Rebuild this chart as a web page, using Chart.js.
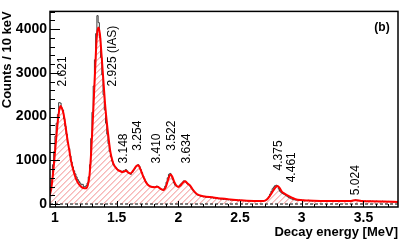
<!DOCTYPE html>
<html>
<head>
<meta charset="utf-8">
<script src="https://cdn.jsdelivr.net/npm/chart.js@4.4.1/dist/chart.umd.min.js"></script>
<style>
  html, body { margin: 0; padding: 0; background: #fff; }
  #wrap { width: 415px; height: 246px; }
</style>
</head>
<body>
<div id="wrap"><canvas id="spectrum" width="415" height="246"></canvas></div>
<script>
// histogram: 10 keV bins, first bin starts at 0.96 MeV
var binStart = 0.96;
var binWidth = 0.01;
var histCounts = [
  300, 560, 900, 1200, 1550, 1850, 2050, 2320, 2310, 2200,
  2150, 1950, 1780, 1600, 1400, 1270, 1100, 960, 850, 760,
  690, 620, 560, 520, 480, 440, 450, 400, 390, 420,
  480, 620, 900, 1500, 2100, 2700, 3300, 3900, 4310, 4150,
  3800, 3350, 2950, 2500, 2150, 1850, 1600, 1380, 1200, 1080,
  980, 900, 860, 840, 800, 780, 770, 750, 730, 760,
  740, 790, 760, 720, 700, 680, 720, 760, 800, 850,
  880, 900, 860, 790, 720, 640, 580, 520, 480, 440,
  420, 400, 390, 400, 380, 390, 410, 400, 370, 350,
  330, 320, 350, 410, 500, 600, 680, 700, 640, 560,
  480, 430, 410, 400, 410, 440, 470, 500, 530, 520,
  490, 460, 440, 410, 370, 330, 290, 260, 230, 210,
  195, 190, 175, 185, 165, 175, 155, 165, 150, 160,
  140, 155, 135, 145, 125, 140, 120, 130, 110, 125,
  105, 115, 100, 110, 95, 105, 90, 100, 85, 95,
  80, 90, 75, 90, 70, 85, 75, 80, 70, 80,
  65, 75, 70, 80, 65, 70, 75, 65, 70, 75,
  60, 70, 65, 75, 80, 100, 130, 170, 230, 290,
  350, 390, 420, 430, 400, 340, 290, 260, 240, 225,
  210, 190, 170, 150, 135, 120, 110, 100, 95, 90,
  95, 85, 80, 90, 75, 85, 70, 80, 75, 85,
  70, 80, 65, 75, 80, 70, 75, 65, 80, 70,
  75, 65, 70, 80, 65, 75, 70, 60, 75, 70,
  65, 75, 60, 70, 75, 65, 70, 60, 75, 65,
  70, 60, 75, 70, 65, 75, 85, 95, 90, 85,
  75, 65, 70, 60, 65, 70, 55, 65, 60, 70,
  55, 65, 60, 55, 65, 60, 50, 60, 55, 65,
  50, 60, 55, 50, 60, 55, 50, 55, 45, 55,
  50, 45
];

// fit curve
var fitEnergy = [
  0.960, 0.975, 0.990, 1.005, 1.020, 1.035, 1.046, 1.058, 1.070, 1.085,
  1.100, 1.115, 1.130, 1.150, 1.170, 1.190, 1.210, 1.230, 1.250, 1.265,
  1.280, 1.295, 1.310, 1.325, 1.338, 1.351, 1.364, 1.378, 1.392, 1.406,
  1.420, 1.435, 1.450, 1.470, 1.490, 1.510, 1.530, 1.550, 1.573, 1.595,
  1.610, 1.625, 1.640, 1.660, 1.676, 1.695, 1.717, 1.737, 1.757, 1.780,
  1.800, 1.830, 1.855, 1.880, 1.900, 1.920, 1.935, 1.950, 1.965, 1.985,
  2.000, 2.020, 2.040, 2.057, 2.075, 2.096, 2.120, 2.150, 2.200, 2.285,
  2.350, 2.420, 2.490, 2.556, 2.620, 2.690, 2.720, 2.745, 2.772, 2.790,
  2.804, 2.820, 2.840, 2.860, 2.881, 2.900, 2.921, 2.950, 2.989, 3.050,
  3.151, 3.250, 3.350, 3.400, 3.435, 3.460, 3.490, 3.550, 3.650, 3.780
];
var fitCounts = [
  210, 450, 850, 1330, 1800, 2150, 2240, 2180, 2060, 1800,
  1500, 1250, 1000, 760, 580, 470, 400, 365, 360, 420,
  650, 1250, 2100, 3020, 3780, 4040, 3900, 3400, 2850, 2300,
  1880, 1500, 1180, 950, 840, 780, 750, 730, 760, 720,
  700, 730, 790, 870, 885, 780, 620, 500, 430, 395,
  385, 395, 350, 320, 400, 580, 675, 630, 520, 420,
  390, 430, 500, 520, 470, 420, 320, 230, 180, 150,
  125, 105, 88, 75, 70, 68, 110, 200, 320, 390,
  415, 370, 280, 240, 205, 175, 145, 110, 90, 80,
  72, 70, 68, 70, 88, 82, 68, 62, 55, 48
];

var xTicksMajor = [1, 1.5, 2, 2.5, 3, 3.5];
var yTicksMajor = [0, 1000, 2000, 3000, 4000];

// peak labels (excitation energy in MeV), anchored at the bottom of the rotated text
var peakLabels = ['2.621', '2.925 (IAS)', '3.148', '3.254', '3.410', '3.522', '3.634', '4.375', '4.461', '5.024'];
var peakLabelE = [1.065, 1.471, 1.560, 1.674, 1.828, 1.950, 2.071, 2.810, 2.916, 3.435];
var peakLabelCounts = [2690, 2690, 927, 1220, 927, 1220, 927, 768, 497, 203];

Chart.defaults.font.family = "'Liberation Sans', Arial, sans-serif";
Chart.defaults.color = '#000';

function isMajor(v, list) {
  return list.some(function (m) { return Math.abs(m - v) < 1e-6; });
}

var histPoints = histCounts.map(function (c, i) {
  return { x: +(binStart + i * binWidth).toFixed(2), y: c };
});
histPoints.push({ x: +(binStart + histCounts.length * binWidth).toFixed(2), y: histCounts[histCounts.length - 1] });

var fitPoints = fitEnergy.map(function (e, i) { return { x: e, y: fitCounts[i] }; });

// red "///" hatching between the fit line and zero, clipped to the fit path
var fitHatch = {
  id: 'fitHatch',
  beforeDatasetsDraw: function (chart) {
    var ctx = chart.ctx, a = chart.chartArea;
    var meta = chart.getDatasetMeta(0);
    var pts = meta.data;
    var y0 = chart.scales.y.getPixelForValue(0);
    ctx.save();
    ctx.beginPath();
    meta.dataset.path(ctx);
    ctx.lineTo(pts[pts.length - 1].x, y0);
    ctx.lineTo(pts[0].x, y0);
    ctx.closePath();
    ctx.clip();
    ctx.strokeStyle = 'rgb(240,110,110)';
    ctx.lineWidth = 0.8;
    ctx.beginPath();
    var h = a.bottom - a.top;
    for (var k = a.left - h; k < a.right; k += 6) {
      ctx.moveTo(k, a.bottom);
      ctx.lineTo(k + h, a.top);
    }
    ctx.stroke();
    ctx.restore();
  }
};

var rootFrame = {
  id: 'rootFrame',
  afterDraw: function (chart) {
    var ctx = chart.ctx, a = chart.chartArea;
    var x = chart.scales.x, y = chart.scales.y;
    ctx.save();
    ctx.strokeStyle = '#000';
    ctx.lineWidth = 1;
    ctx.beginPath();
    x.ticks.forEach(function (t) {
      var px = Math.round(x.getPixelForValue(t.value)) + 0.5;
      var len = isMajor(t.value, xTicksMajor) ? 6 : 3;
      ctx.moveTo(px, a.bottom); ctx.lineTo(px, a.bottom - len);
    });
    y.ticks.forEach(function (t) {
      var py = Math.round(y.getPixelForValue(t.value)) + 0.5;
      var len = isMajor(t.value, yTicksMajor) ? 10 : 5;
      ctx.moveTo(a.left, py); ctx.lineTo(a.left + len, py);
    });
    ctx.stroke();
    ctx.lineWidth = 1.5;
    ctx.strokeRect(a.left, a.top, a.right - a.left, a.bottom - a.top);

    // peak labels
    ctx.fillStyle = '#000';
    ctx.font = "12px 'Liberation Sans', Arial, sans-serif";
    ctx.textBaseline = 'middle';
    ctx.textAlign = 'left';
    peakLabels.forEach(function (txt, i) {
      var px = x.getPixelForValue(peakLabelE[i]);
      var py = y.getPixelForValue(peakLabelCounts[i]);
      ctx.save();
      ctx.translate(px, py);
      ctx.rotate(-Math.PI / 2);
      ctx.fillText(txt, 0, 0);
      ctx.restore();
    });
    ctx.font = "bold 12px 'Liberation Sans', Arial, sans-serif";
    ctx.textAlign = 'center';
    ctx.fillText('(b)', a.right - 16, a.top + 16);
    ctx.restore();
  }
};

var myContext = document.getElementById('spectrum').getContext('2d');
new Chart(myContext, {
  type: 'line',
  data: {
    datasets: [{
      label: 'fit',
      data: fitPoints,
      borderColor: '#ff0000',
      borderWidth: 2,
      pointRadius: 0,
      fill: false,
      cubicInterpolationMode: 'monotone'
    }, {
      label: 'data',
      data: histPoints,
      borderColor: '#3a3a3a',
      borderWidth: 1,
      stepped: 'before',
      pointRadius: 0,
      fill: false
    }, {
      label: 'zero',
      data: [{ x: 0.96, y: 0 }, { x: 3.78, y: 0 }],
      borderColor: '#000',
      borderWidth: 1,
      borderDash: [3, 2],
      pointRadius: 0,
      fill: false
    }]
  },
  options: {
    responsive: false,
    devicePixelRatio: 1,
    animation: false,
    layout: { padding: { left: 0, right: 17, top: 9, bottom: 0 } },
    plugins: {
      legend: { display: false },
      tooltip: { enabled: false }
    },
    scales: {
      x: {
        type: 'linear',
        min: 0.96,
        max: 3.78,
        afterFit: function (s) { s.height = 39; },
        grid: { display: false, drawTicks: false },
        border: { display: false },
        ticks: {
          stepSize: 0.1,
          includeBounds: false,
          autoSkip: false,
          maxRotation: 0,
          padding: 3,
          font: { size: 14, weight: 'bold' },
          callback: function (v) { return isMajor(v, xTicksMajor) ? String(v) : ''; }
        },
        title: {
          display: true,
          text: 'Decay energy [MeV]',
          align: 'end',
          font: { size: 13, weight: 'bold' },
          padding: { top: 0, bottom: 6 }
        }
      },
      y: {
        min: -68,
        max: 4407,
        afterFit: function (s) { s.width = 50; },
        grid: { display: false, drawTicks: false },
        border: { display: false },
        ticks: {
          stepSize: 200,
          includeBounds: false,
          autoSkip: false,
          padding: 3,
          font: { size: 14, weight: 'bold' },
          callback: function (v) { return isMajor(v, yTicksMajor) ? String(v) : ''; }
        },
        title: {
          display: true,
          text: 'Counts / 10 keV',
          align: 'end',
          font: { size: 13, weight: 'bold' },
          padding: { top: 0, bottom: 0 }
        }
      }
    }
  },
  plugins: [fitHatch, rootFrame]
});
</script>
</body>
</html>
